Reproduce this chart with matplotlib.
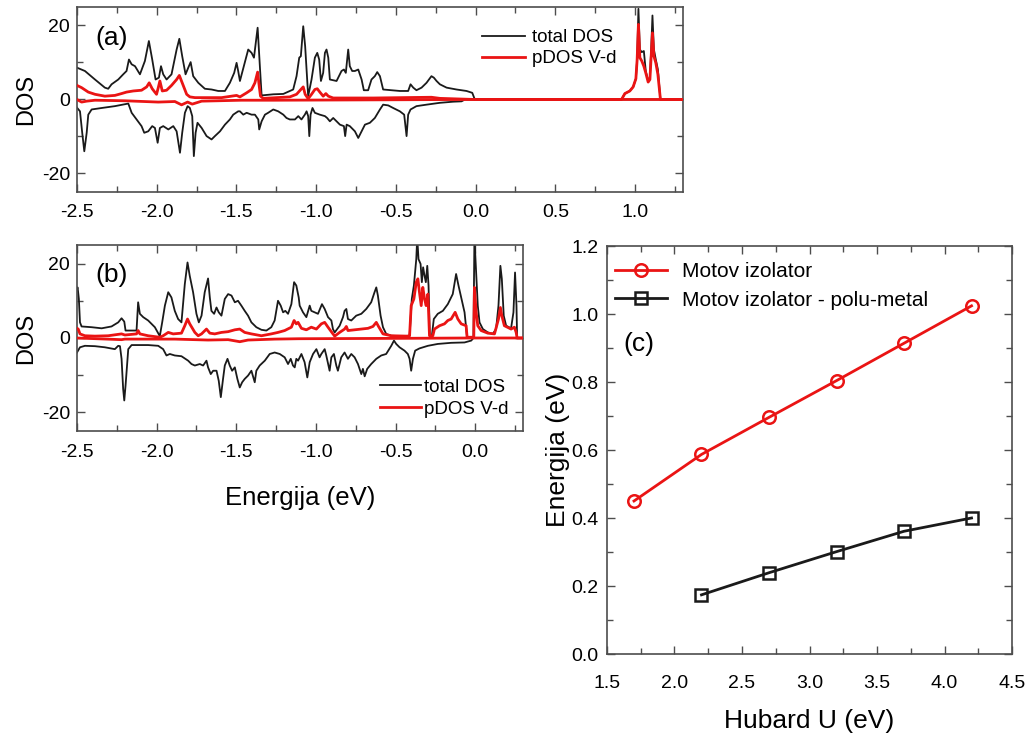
import numpy as np
import matplotlib
matplotlib.use("Agg")
import matplotlib.pyplot as plt
from matplotlib.ticker import MultipleLocator, FixedLocator

plt.rcParams['font.family'] = ['Liberation Sans', 'DejaVu Sans']

RED = '#ea1414'
BLK = '#1a1a1a'

# ---- (a) DOS, spin up / spin down: (E [eV], DOS) ----
a_tot_up = np.array([
    (-2.500, 8.6), (-2.450, 7.7), (-2.387, 5.4), (-2.325, 3.2), (-2.304, 2.9), (-2.283, 4.1),
    (-2.241, 5.4), (-2.210, 6.8), (-2.189, 7.7), (-2.174, 10.8), (-2.157, 9.5), (-2.136, 9.0),
    (-2.105, 6.8), (-2.074, 10.4), (-2.049, 15.8), (-2.028, 10.8), (-2.007, 5.4), (-1.986, 5.9),
    (-1.973, 9.0), (-1.959, 6.8), (-1.938, 5.4), (-1.907, 6.8), (-1.875, 13.5), (-1.858, 16.4),
    (-1.840, 11.7), (-1.819, 6.8), (-1.802, 8.6), (-1.787, 10.1), (-1.771, 6.3), (-1.739, 4.5),
    (-1.698, 2.9), (-1.656, 2.7), (-1.614, 2.3), (-1.572, 2.3), (-1.541, 4.5), (-1.514, 7.2),
    (-1.499, 9.9), (-1.489, 7.7), (-1.478, 5.0), (-1.426, 13.5), (-1.405, 12.6), (-1.390, 11.3),
    (-1.367, 19.4), (-1.353, 9.0), (-1.342, 1.1), (-1.269, 1.4), (-1.206, 1.5), (-1.144, 2.7),
    (-1.123, 6.3), (-1.106, 11.3), (-1.096, 11.7), (-1.081, 19.8), (-1.069, 14.4), (-1.050, 0.9),
    (-1.029, 5.4), (-1.008, 11.3), (-0.993, 12.6), (-0.981, 10.8), (-0.970, 5.0), (-0.956, 7.2),
    (-0.945, 12.6), (-0.935, 13.5), (-0.924, 11.3), (-0.914, 5.4), (-0.872, 5.0), (-0.841, 7.7),
    (-0.826, 8.1), (-0.814, 7.2), (-0.799, 13.5), (-0.789, 9.0), (-0.774, 7.7), (-0.757, 7.7),
    (-0.736, 8.1), (-0.715, 5.4), (-0.701, 2.5), (-0.674, 2.5), (-0.653, 5.4), (-0.632, 6.3),
    (-0.617, 7.4), (-0.600, 6.3), (-0.580, 2.7), (-0.475, 2.3), (-0.423, 2.3), (-0.408, 4.1),
    (-0.391, 3.2), (-0.371, 2.5), (-0.339, 3.2), (-0.308, 4.5), (-0.277, 6.3), (-0.262, 5.9),
    (-0.245, 5.0), (-0.224, 4.1), (-0.182, 3.2), (-0.120, 2.7), (-0.057, 2.3), (-0.021, 1.8),
    (-0.005, 0.0), (0.915, 0.0), (0.936, 1.6), (0.967, 2.3), (0.988, 3.4), (1.005, 5.6),
    (1.013, 10.8), (1.021, 24.5), (1.030, 13.5), (1.042, 12.8), (1.055, 13.1), (1.067, 7.7),
    (1.082, 5.0), (1.093, 5.9), (1.101, 13.5), (1.109, 22.7), (1.118, 13.5), (1.130, 10.8),
    (1.143, 8.1), (1.159, 0.0), (1.300, 0.0),
])
a_tot_dn = np.array([
    (-2.500, -2.2), (-2.481, -3.2), (-2.467, -9.0), (-2.454, -14.0), (-2.439, -9.0), (-2.429, -4.1),
    (-2.408, -2.7), (-2.345, -2.3), (-2.262, -1.8), (-2.178, -1.1), (-2.157, -3.6), (-2.126, -5.4),
    (-2.095, -7.2), (-2.078, -9.0), (-2.053, -8.6), (-2.028, -7.2), (-2.011, -7.7), (-1.994, -11.7),
    (-1.980, -7.7), (-1.959, -7.2), (-1.927, -8.1), (-1.896, -7.2), (-1.875, -8.6), (-1.854, -14.4),
    (-1.840, -9.0), (-1.823, -3.6), (-1.806, -1.8), (-1.792, -2.3), (-1.777, -4.5), (-1.767, -15.3),
    (-1.756, -9.0), (-1.744, -6.3), (-1.718, -7.7), (-1.687, -9.9), (-1.656, -10.8), (-1.635, -9.9),
    (-1.603, -8.6), (-1.572, -6.8), (-1.541, -5.4), (-1.520, -4.1), (-1.489, -3.2), (-1.478, -3.2),
    (-1.457, -4.1), (-1.436, -3.6), (-1.405, -4.1), (-1.384, -4.1), (-1.363, -5.4), (-1.357, -8.1),
    (-1.342, -5.9), (-1.321, -4.1), (-1.301, -3.6), (-1.269, -2.7), (-1.238, -3.2), (-1.206, -4.1),
    (-1.186, -5.0), (-1.165, -5.4), (-1.133, -5.4), (-1.112, -4.5), (-1.092, -5.4), (-1.071, -4.1),
    (-1.060, -3.2), (-1.050, -4.5), (-1.043, -9.9), (-1.035, -4.1), (-1.023, -2.3), (-1.008, -3.6),
    (-0.977, -4.1), (-0.945, -4.5), (-0.931, -5.0), (-0.914, -5.9), (-0.893, -5.0), (-0.872, -5.9),
    (-0.851, -6.8), (-0.826, -7.2), (-0.818, -9.9), (-0.809, -6.8), (-0.789, -7.2), (-0.757, -8.6),
    (-0.736, -10.4), (-0.715, -8.6), (-0.694, -6.8), (-0.663, -6.3), (-0.632, -5.0), (-0.600, -2.7),
    (-0.580, -1.4), (-0.548, -1.6), (-0.517, -2.3), (-0.475, -3.2), (-0.448, -4.1), (-0.433, -9.9),
    (-0.423, -4.1), (-0.408, -2.7), (-0.371, -1.8), (-0.308, -1.4), (-0.224, -0.9), (-0.141, -0.6),
    (-0.088, -0.5), (-0.067, 0.0), (1.300, 0.0),
])
a_pd_up = np.array([
    (-2.500, 3.8), (-2.471, 3.2), (-2.429, 2.0), (-2.387, 1.4), (-2.325, 0.9), (-2.262, 1.1),
    (-2.220, 1.6), (-2.189, 2.0), (-2.147, 2.3), (-2.095, 2.5), (-2.063, 3.4), (-2.047, 4.5),
    (-2.028, 2.9), (-2.001, 1.4), (-1.990, 3.2), (-1.980, 5.0), (-1.965, 2.3), (-1.938, 2.5),
    (-1.907, 3.8), (-1.875, 5.4), (-1.858, 6.5), (-1.840, 4.5), (-1.812, 1.4), (-1.792, 0.7),
    (-1.760, 0.5), (-1.593, 0.5), (-1.499, 1.1), (-1.478, 0.7), (-1.436, 1.8), (-1.405, 2.7),
    (-1.384, 4.5), (-1.367, 7.4), (-1.357, 3.6), (-1.349, 0.9), (-1.332, 0.3), (-1.165, 0.7),
    (-1.123, 1.4), (-1.096, 2.7), (-1.081, 3.4), (-1.069, 1.4), (-1.050, 0.2), (-1.029, 1.4),
    (-1.008, 2.7), (-0.993, 2.9), (-0.977, 2.0), (-0.956, 0.9), (-0.939, 1.6), (-0.924, 0.9),
    (-0.893, 0.4), (-0.642, 0.4), (-0.277, 0.6), (-0.224, 0.3), (-0.005, 0.0), (0.915, 0.0),
    (0.936, 1.6), (0.967, 2.3), (0.988, 3.4), (1.005, 5.6), (1.013, 10.8), (1.021, 20.3),
    (1.030, 11.3), (1.042, 10.4), (1.055, 9.0), (1.067, 7.2), (1.082, 4.7), (1.093, 5.4),
    (1.101, 11.7), (1.109, 18.0), (1.118, 11.7), (1.130, 9.9), (1.143, 6.8), (1.159, 0.0),
    (1.300, 0.0),
])
a_pd_dn = np.array([
    (-2.500, 0.0), (-2.471, -0.7), (-2.439, -0.45), (-2.387, -0.2), (-2.199, -0.35), (-1.990, -0.7),
    (-1.886, -0.55), (-1.844, -1.45), (-1.806, -0.7), (-1.777, -1.25), (-1.718, -0.45),
    (-1.468, -0.2), (-1.269, -0.2), (-0.642, -0.1), (-0.067, 0.0), (1.300, 0.0),
])

# ---- (b) DOS ----
b_tot_up = np.array([
    (-2.500, 13.2), (-2.496, 13.6), (-2.488, 10.5), (-2.481, 4.2), (-2.471, 3.1), (-2.408, 2.9),
    (-2.345, 2.6), (-2.283, 3.1), (-2.241, 4.2), (-2.220, 5.3), (-2.203, 4.4), (-2.195, 2.0),
    (-2.126, 2.0), (-2.116, 9.6), (-2.105, 6.5), (-2.084, 5.6), (-2.053, 4.7), (-2.011, 2.9),
    (-1.980, 0.5), (-1.965, 4.2), (-1.948, 8.7), (-1.927, 12.3), (-1.907, 10.9), (-1.886, 7.3),
    (-1.865, 5.1), (-1.844, 4.2), (-1.823, 14.5), (-1.806, 20.3), (-1.792, 16.7), (-1.771, 12.3),
    (-1.750, 6.5), (-1.735, 4.2), (-1.718, 6.0), (-1.698, 12.3), (-1.677, 16.0), (-1.666, 10.9),
    (-1.656, 7.3), (-1.639, 6.5), (-1.624, 8.2), (-1.610, 6.9), (-1.593, 6.0), (-1.572, 10.5),
    (-1.551, 11.8), (-1.530, 11.4), (-1.509, 9.6), (-1.489, 10.0), (-1.468, 8.7), (-1.447, 7.3),
    (-1.426, 6.0), (-1.405, 4.2), (-1.374, 2.9), (-1.342, 2.2), (-1.311, 2.0), (-1.280, 2.9),
    (-1.259, 4.7), (-1.238, 10.0), (-1.221, 8.7), (-1.206, 6.9), (-1.192, 7.3), (-1.175, 6.5),
    (-1.154, 9.1), (-1.137, 15.0), (-1.123, 14.1), (-1.108, 10.9), (-1.102, 8.7), (-1.081, 6.9),
    (-1.060, 5.6), (-1.039, 8.7), (-1.029, 7.3), (-1.008, 6.9), (-0.987, 6.5), (-0.962, 9.1),
    (-0.945, 7.8), (-0.924, 5.6), (-0.903, 4.7), (-0.893, 2.4), (-0.882, 1.5), (-0.851, 3.3),
    (-0.830, 5.6), (-0.820, 7.3), (-0.809, 7.8), (-0.799, 5.1), (-0.778, 4.7), (-0.747, 6.0),
    (-0.715, 6.5), (-0.684, 7.8), (-0.653, 9.6), (-0.632, 12.3), (-0.621, 13.6), (-0.611, 11.4),
    (-0.594, 6.0), (-0.579, 2.9), (-0.559, 1.1), (-0.527, 0.6), (-0.465, 0.5), (-0.412, 0.6),
    (-0.398, 10.5), (-0.385, 14.1), (-0.370, 21.2), (-0.364, 27.0), (-0.356, 21.2), (-0.343, 19.9),
    (-0.335, 15.0), (-0.327, 19.0), (-0.318, 16.7), (-0.310, 15.0), (-0.301, 19.4), (-0.293, 14.1),
    (-0.285, 0.6), (-0.272, 0.6), (-0.260, 5.1), (-0.235, 6.5), (-0.203, 7.3), (-0.172, 9.1),
    (-0.141, 11.8), (-0.120, 17.2), (-0.105, 14.1), (-0.088, 10.9), (-0.067, 6.9), (-0.051, 0.2),
    (-0.011, 0.2), (-0.005, 27.0), (0.006, 17.6), (0.016, 8.7), (0.027, 4.2), (0.048, 2.4),
    (0.079, 1.5), (0.110, 1.1), (0.131, 2.4), (0.146, 8.7), (0.158, 19.4), (0.167, 15.9),
    (0.179, 6.0), (0.194, 3.3), (0.225, 2.6), (0.240, 6.9), (0.250, 17.6), (0.259, 8.7),
    (0.263, 0.0), (0.300, 0.0),
])
b_tot_dn = np.array([
    (-2.500, -3.9), (-2.481, -2.5), (-2.450, -2.1), (-2.387, -2.2), (-2.325, -2.5), (-2.262, -3.0),
    (-2.241, -2.1), (-2.230, -2.2), (-2.220, -5.6), (-2.210, -13.7), (-2.203, -16.8), (-2.195, -12.8),
    (-2.178, -3.0), (-2.157, -1.9), (-2.053, -1.9), (-1.990, -2.1), (-1.959, -3.0), (-1.938, -4.7),
    (-1.917, -4.3), (-1.886, -4.7), (-1.844, -4.9), (-1.802, -6.1), (-1.781, -7.0), (-1.760, -7.4),
    (-1.729, -7.0), (-1.708, -7.4), (-1.687, -6.1), (-1.677, -7.9), (-1.660, -9.7), (-1.645, -8.8),
    (-1.624, -8.8), (-1.610, -11.5), (-1.597, -15.9), (-1.583, -11.0), (-1.572, -7.4), (-1.555, -5.6),
    (-1.541, -7.4), (-1.526, -8.8), (-1.509, -7.9), (-1.493, -11.0), (-1.478, -13.3), (-1.463, -11.9),
    (-1.447, -11.0), (-1.426, -10.1), (-1.405, -8.8), (-1.384, -11.9), (-1.374, -8.8), (-1.353, -7.4),
    (-1.321, -6.1), (-1.290, -4.3), (-1.259, -3.9), (-1.227, -4.3), (-1.196, -5.2), (-1.175, -7.0),
    (-1.158, -5.6), (-1.144, -7.4), (-1.133, -7.9), (-1.123, -5.6), (-1.112, -6.1), (-1.091, -4.3),
    (-1.071, -6.5), (-1.054, -10.6), (-1.039, -6.5), (-1.018, -4.3), (-0.997, -3.0), (-0.977, -5.2),
    (-0.966, -4.3), (-0.945, -3.0), (-0.935, -4.7), (-0.914, -8.8), (-0.903, -5.2), (-0.887, -4.3),
    (-0.872, -7.4), (-0.862, -8.8), (-0.841, -5.2), (-0.820, -3.9), (-0.799, -5.6), (-0.778, -4.3),
    (-0.757, -5.2), (-0.736, -7.0), (-0.715, -9.7), (-0.705, -8.3), (-0.694, -10.3), (-0.678, -8.3),
    (-0.653, -7.0), (-0.621, -5.6), (-0.590, -4.7), (-0.559, -4.3), (-0.527, -2.1), (-0.510, -0.7),
    (-0.496, -1.6), (-0.475, -2.5), (-0.444, -3.4), (-0.423, -4.3), (-0.412, -5.6), (-0.402, -8.8),
    (-0.391, -5.6), (-0.377, -3.4), (-0.350, -2.8), (-0.297, -2.1), (-0.235, -1.6), (-0.151, -1.3),
    (-0.067, -1.2), (-0.025, -0.7), (-0.011, 0.0), (0.300, 0.0),
])
b_pd_up = np.array([
    (-2.500, 2.6), (-2.492, 2.4), (-2.481, 1.1), (-2.450, 0.6), (-2.387, 0.5), (-2.304, 0.6),
    (-2.220, 1.1), (-2.199, 0.8), (-2.126, 1.1), (-2.116, 2.0), (-2.105, 1.1), (-2.053, 0.6),
    (-1.980, 0.2), (-1.959, 0.6), (-1.927, 1.5), (-1.896, 1.1), (-1.844, 1.3), (-1.823, 3.3),
    (-1.806, 5.1), (-1.792, 3.8), (-1.760, 1.5), (-1.739, 0.6), (-1.718, 1.1), (-1.687, 2.4),
    (-1.666, 1.3), (-1.635, 1.1), (-1.593, 1.5), (-1.551, 1.7), (-1.509, 2.2), (-1.478, 2.4),
    (-1.447, 1.5), (-1.405, 1.1), (-1.342, 0.6), (-1.280, 1.1), (-1.238, 1.5), (-1.196, 2.0),
    (-1.154, 2.9), (-1.137, 4.7), (-1.123, 3.8), (-1.112, 4.2), (-1.091, 2.6), (-1.060, 2.2),
    (-1.029, 2.9), (-0.997, 2.4), (-0.966, 3.8), (-0.945, 4.2), (-0.924, 2.9), (-0.893, 1.1),
    (-0.882, 0.5), (-0.851, 1.5), (-0.820, 2.4), (-0.809, 3.1), (-0.799, 2.0), (-0.757, 2.2),
    (-0.715, 2.4), (-0.673, 2.6), (-0.642, 3.1), (-0.621, 4.2), (-0.607, 3.1), (-0.579, 1.1),
    (-0.527, 0.6), (-0.423, 0.5), (-0.412, 0.6), (-0.402, 8.7), (-0.385, 10.5), (-0.370, 15.0),
    (-0.360, 15.9), (-0.350, 12.3), (-0.339, 8.7), (-0.329, 13.6), (-0.318, 10.5), (-0.308, 8.7),
    (-0.297, 11.8), (-0.287, 0.6), (-0.266, 0.6), (-0.256, 2.4), (-0.224, 3.3), (-0.193, 3.8),
    (-0.172, 4.7), (-0.151, 5.1), (-0.126, 6.9), (-0.109, 5.1), (-0.088, 3.8), (-0.057, 3.3),
    (-0.051, 0.2), (-0.009, 0.2), (-0.005, 13.6), (0.006, 6.9), (0.016, 3.3), (0.037, 2.0),
    (0.079, 1.3), (0.121, 1.1), (0.146, 5.1), (0.158, 8.2), (0.167, 6.0), (0.183, 3.3),
    (0.225, 2.4), (0.246, 2.9), (0.257, 1.5), (0.263, 0.0), (0.300, 0.0),
])
b_pd_dn = np.array([
    (-2.500, 0.0), (-2.220, -0.45), (-2.199, -0.3), (-1.886, -0.3), (-1.677, -0.55), (-1.551, -0.45),
    (-1.478, -1.0), (-1.426, -0.55), (-1.259, -0.3), (-1.108, -0.2), (-0.506, -0.1), (-0.011, 0.0),
    (0.300, 0.0),
])

# ---- (c) band gaps vs Hubbard U ----
U_mott = [1.7, 2.2, 2.7, 3.2, 3.7, 4.2]
E_mott = [0.45, 0.587, 0.696, 0.804, 0.914, 1.024]
U_semi = [2.2, 2.7, 3.2, 3.7, 4.2]
E_semi = [0.174, 0.239, 0.301, 0.361, 0.40]
c_xticks = [1.5, 2.0, 2.5, 3.0, 3.5, 4.0, 4.5]
c_yticks = [0.0, 0.2, 0.4, 0.6, 0.8, 1.0, 1.2]

fig = plt.figure(figsize=(10.33, 7.35), dpi=100)

SPINE = '#4d4d4d'


def style_axes(ax, xpad, ypad):
    for s in ax.spines.values():
        s.set_color(SPINE)
        s.set_linewidth(1.2)
    ax.tick_params(which='both', direction='in', top=True, right=True,
                   colors=SPINE, labelcolor='black', labelsize=14, width=1.0)
    ax.tick_params(which='major', length=6)
    ax.tick_params(which='minor', length=4)
    ax.tick_params(axis='x', pad=xpad)
    ax.tick_params(axis='y', pad=ypad)


def dos_panel(ax, tot_up, tot_dn, pd_up, pd_dn, xmax, xt):
    ax.plot(tot_up[:, 0], tot_up[:, 1], color=BLK, lw=1.3, zorder=2)
    ax.plot(tot_dn[:, 0], tot_dn[:, 1], color=BLK, lw=1.3, zorder=2)
    ax.plot(pd_dn[:, 0], pd_dn[:, 1], color=RED, lw=2.0, zorder=3)
    ax.plot(pd_up[:, 0], pd_up[:, 1], color=RED, lw=2.0, zorder=3)
    ax.set_xlim(-2.5, xmax)
    ax.set_ylim(-25, 25)
    ax.xaxis.set_major_locator(FixedLocator(xt))
    ax.xaxis.set_minor_locator(MultipleLocator(0.25))
    ax.yaxis.set_major_locator(FixedLocator([-20, 0, 20]))
    ax.yaxis.set_minor_locator(MultipleLocator(10))
    ax.set_xticklabels([f"{v:.1f}" for v in xt])
    ax.set_yticklabels(['-20', '0', '20'])
    ax.set_ylabel('DOS', fontsize=17, labelpad=3)
    style_axes(ax, 9, 5)


# panel (a)
ax_a = fig.add_axes([0.0745, 0.7388, 0.5866, 0.2517])
dos_panel(ax_a, a_tot_up, a_tot_dn, a_pd_up, a_pd_dn, 1.3,
          [-2.5, -2.0, -1.5, -1.0, -0.5, 0.0, 0.5, 1.0])
ax_a.plot([], [], color=BLK, lw=1.3, label='total DOS')
ax_a.plot([], [], color=RED, lw=2.0, label='pDOS V-d')
ax_a.legend(loc='upper left', bbox_to_anchor=(0.668, 0.88), frameon=False,
            fontsize=13.5, handlelength=2.3, handletextpad=0.4,
            labelspacing=0.2, borderpad=0, borderaxespad=0)
ax_a.text(0.058, 0.83, '(a)', transform=ax_a.transAxes, fontsize=19,
          ha='center', va='center')

# panel (b)
ax_b = fig.add_axes([0.0745, 0.4136, 0.4318, 0.2531])
dos_panel(ax_b, b_tot_up, b_tot_dn, b_pd_up, b_pd_dn, 0.3,
          [-2.5, -2.0, -1.5, -1.0, -0.5, 0.0])
ax_b.plot([], [], color=BLK, lw=1.3, label='total DOS')
ax_b.plot([], [], color=RED, lw=2.0, label='pDOS V-d')
ax_b.legend(loc='upper left', bbox_to_anchor=(0.679, 0.28), frameon=False,
            fontsize=13.5, handlelength=2.2, handletextpad=0.15,
            labelspacing=0.25, borderpad=0, borderaxespad=0)
ax_b.text(0.078, 0.84, '(b)', transform=ax_b.transAxes, fontsize=19,
          ha='center', va='center')
ax_b.set_xlabel('Energija (eV)', fontsize=18.5, labelpad=18)

# panel (c)
ax_c = fig.add_axes([0.5876, 0.1102, 0.3921, 0.5551])
ax_c.plot(U_mott, E_mott, color=RED, lw=2.0, marker='o', ms=9, mfc='none',
          mec=RED, mew=1.8, label='Motov izolator')
ax_c.plot(U_semi, E_semi, color=BLK, lw=2.0, marker='s', ms=8, mfc='none',
          mec=BLK, mew=1.8, label='Motov izolator - polu-metal')
ax_c.set_xlim(1.5, 4.5)
ax_c.set_ylim(0.0, 1.2)
ax_c.xaxis.set_major_locator(FixedLocator(c_xticks))
ax_c.xaxis.set_minor_locator(MultipleLocator(0.25))
ax_c.yaxis.set_major_locator(FixedLocator(c_yticks))
ax_c.yaxis.set_minor_locator(MultipleLocator(0.1))
ax_c.set_xticklabels([f"{v:.1f}" for v in c_xticks])
ax_c.set_yticklabels([f"{v:.1f}" for v in c_yticks])
style_axes(ax_c, 15, 6)
ax_c.set_xlabel('Hubard U (eV)', fontsize=19, labelpad=12)
ax_c.set_ylabel('Energija (eV)', fontsize=19, labelpad=1)
ax_c.legend(loc='upper left', bbox_to_anchor=(0.02, 0.96), frameon=False,
            fontsize=15, handlelength=2.5, handletextpad=0.7,
            labelspacing=0.45, borderpad=0, borderaxespad=0)
ax_c.text(0.079, 0.76, '(c)', transform=ax_c.transAxes, fontsize=19,
          ha='center', va='center')

fig.savefig('out.png', dpi=100)
